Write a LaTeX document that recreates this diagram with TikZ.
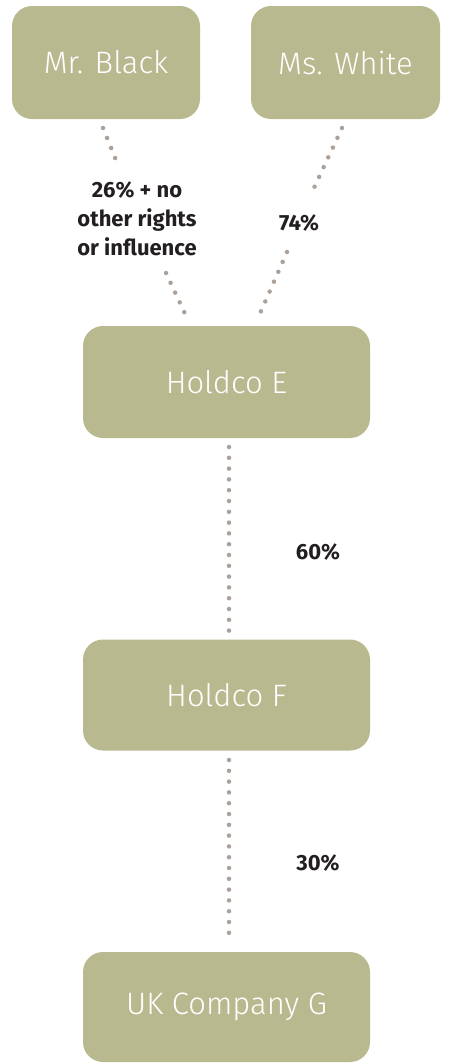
\documentclass[tikz,border=0pt]{standalone}
\usepackage{fontspec}
\setmainfont{Fira Sans}
\newfontfamily\lightfont{Fira Sans Light}
\definecolor{boxc}{HTML}{B9B990}
\definecolor{dotc}{HTML}{ACA199}
\definecolor{txtc}{HTML}{231F20}
\begin{document}
\begin{tikzpicture}[x=1pt,y=-1pt,
  entity/.style={fill=boxc, draw=none, rounded corners=20pt, text=white,
    font=\lightfont\fontsize{31}{36}\selectfont, inner sep=0pt},
  link/.style={draw=dotc, line width=4.5pt, line cap=round,
    dash pattern=on 0pt off 10.8pt},
  pct/.style={text=txtc, font=\bfseries\fontsize{22}{29}\selectfont, align=center, inner sep=0pt}]
\useasboundingbox (0,0) rectangle (448,1063);
\node[entity, minimum width=188pt, minimum height=113pt] (mb) at (106,62.5) {Mr. Black};
\node[entity, minimum width=189pt, minimum height=113pt] (mw) at (345.5,62.5) {Ms. White};
\node[entity, minimum width=287pt, minimum height=112pt] (he) at (226.5,382) {Holdco E};
\node[entity, minimum width=287pt, minimum height=111pt] (hf) at (226.5,695) {Holdco F};
\node[entity, minimum width=287pt, minimum height=110pt] (ukg) at (226.5,1007) {UK Company G};
% connector end points
\coordinate (mb1) at (103,128);
\coordinate (mb2) at (116,160);
\coordinate (mb3) at (166,273);
\coordinate (mb4) at (187,318);
\coordinate (mw1) at (342,128);
\coordinate (mw2) at (313,190);
\coordinate (mw3) at (287,252);
\coordinate (mw4) at (258,318);
\coordinate (he1) at (229,447);
\coordinate (hf0) at (229,631);
\coordinate (hf1) at (229,760);
\coordinate (ukg0) at (229,943);
\draw[link] (mb1) -- (mb2);
\draw[link] (mb3) -- (mb4);
\draw[link] (mw1) -- (mw2);
\draw[link] (mw3) -- (mw4);
\draw[link] (he1) -- (hf0);
\draw[link] (hf1) -- (ukg0);
\node[pct] (l1) at (137,219) {26\% + no\\other rights\\or influence};
\node[pct] (l2) at (299,223) {74\%};
\node[pct] (l3) at (318,552) {60\%};
\node[pct] (l4) at (318,863) {30\%};
\end{tikzpicture}
\end{document}
